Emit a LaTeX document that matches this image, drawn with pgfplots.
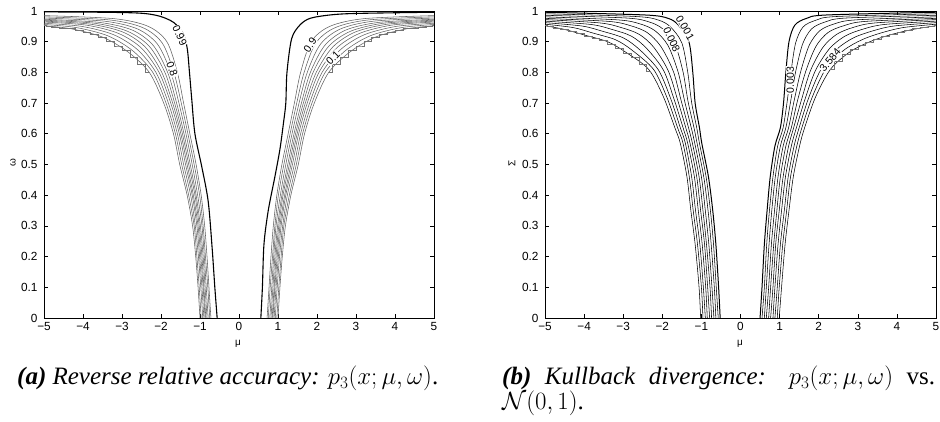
\documentclass[border=0pt]{standalone}
\usepackage{pgfplots}
\pgfplotsset{compat=1.18}
\usepackage{pgfplotstable}
\usepackage{fontspec}
\setmainfont{Liberation Serif}
\newfontfamily\hv{Liberation Sans}

% ---- plot (a): right side band contours (0.9 ... 0.1), columns xk yk
\pgfplotstableread{
x0 y0 x1 y1 x2 y2 x3 y3 x4 y4 x5 y5 x6 y6 x7 y7 x8 y8 x9 y9
0.72 0 0.75 0 0.79 0 0.82 0 0.85 0 0.87 0 0.90 0 0.93 0 0.97 0 1.00 0
0.77 0.1 0.80 0.1 0.84 0.1 0.87 0.1 0.90 0.1 0.92 0.1 0.95 0.1 0.98 0.1 1.02 0.1 1.05 0.1
0.82 0.2 0.86 0.2 0.89 0.2 0.92 0.2 0.95 0.2 0.98 0.2 1.01 0.2 1.04 0.2 1.08 0.2 1.11 0.2
0.88 0.3 0.92 0.3 0.95 0.3 0.99 0.3 1.02 0.3 1.05 0.3 1.08 0.3 1.12 0.3 1.15 0.3 1.19 0.3
0.97 0.4 1.01 0.4 1.06 0.4 1.10 0.4 1.13 0.4 1.17 0.4 1.20 0.4 1.24 0.4 1.29 0.4 1.33 0.4
1.10 0.5 1.15 0.5 1.20 0.5 1.25 0.5 1.29 0.5 1.33 0.5 1.37 0.5 1.42 0.5 1.47 0.5 1.52 0.5
1.26 0.6 1.31 0.6 1.36 0.6 1.41 0.6 1.45 0.6 1.49 0.6 1.53 0.6 1.58 0.6 1.63 0.6 1.68 0.6
1.42 0.7 1.48 0.7 1.54 0.7 1.60 0.7 1.65 0.7 1.70 0.7 1.75 0.7 1.81 0.7 1.87 0.7 1.93 0.7
1.58 0.8 1.67 0.8 1.75 0.8 1.83 0.8 1.90 0.8 1.98 0.8 2.05 0.8 2.13 0.8 2.21 0.8 2.30 0.8
1.85 0.900 1.97 0.896 2.09 0.892 2.20 0.888 2.30 0.885 2.40 0.882 2.50 0.879 2.61 0.875 2.73 0.871 2.85 0.867
2.33 0.950 2.47 0.946 2.61 0.942 2.74 0.938 2.86 0.934 2.97 0.931 3.09 0.927 3.22 0.923 3.36 0.919 3.50 0.915
3.20 0.975 3.33 0.971 3.46 0.967 3.59 0.963 3.70 0.960 3.81 0.957 3.92 0.954 4.04 0.950 4.17 0.946 4.30 0.942
5 0.985 5 0.981 5 0.977 5 0.973 5 0.970 5 0.967 5 0.964 5 0.960 5 0.956 5 0.952
}\aR
% ---- plot (a): left side band contours
\pgfplotstableread{
x0 y0 x1 y1 x2 y2 x3 y3 x4 y4 x5 y5 x6 y6 x7 y7 x8 y8 x9 y9
-0.72 0 -0.75 0 -0.79 0 -0.82 0 -0.85 0 -0.87 0 -0.90 0 -0.93 0 -0.97 0 -1.00 0
-0.77 0.1 -0.80 0.1 -0.84 0.1 -0.87 0.1 -0.90 0.1 -0.92 0.1 -0.95 0.1 -0.98 0.1 -1.02 0.1 -1.05 0.1
-0.82 0.2 -0.86 0.2 -0.89 0.2 -0.92 0.2 -0.95 0.2 -0.98 0.2 -1.01 0.2 -1.04 0.2 -1.08 0.2 -1.11 0.2
-0.88 0.3 -0.92 0.3 -0.95 0.3 -0.99 0.3 -1.02 0.3 -1.05 0.3 -1.08 0.3 -1.12 0.3 -1.15 0.3 -1.19 0.3
-0.97 0.4 -1.01 0.4 -1.06 0.4 -1.10 0.4 -1.13 0.4 -1.17 0.4 -1.20 0.4 -1.24 0.4 -1.29 0.4 -1.33 0.4
-1.10 0.5 -1.15 0.5 -1.20 0.5 -1.25 0.5 -1.29 0.5 -1.33 0.5 -1.37 0.5 -1.42 0.5 -1.47 0.5 -1.52 0.5
-1.26 0.6 -1.31 0.6 -1.36 0.6 -1.41 0.6 -1.45 0.6 -1.49 0.6 -1.53 0.6 -1.58 0.6 -1.63 0.6 -1.68 0.6
-1.42 0.7 -1.48 0.7 -1.54 0.7 -1.60 0.7 -1.65 0.7 -1.70 0.7 -1.75 0.7 -1.81 0.7 -1.87 0.7 -1.93 0.7
-1.58 0.8 -1.67 0.8 -1.75 0.8 -1.83 0.8 -1.90 0.8 -1.98 0.8 -2.05 0.8 -2.13 0.8 -2.21 0.8 -2.30 0.8
-1.85 0.900 -1.97 0.896 -2.09 0.892 -2.20 0.888 -2.30 0.885 -2.40 0.882 -2.50 0.879 -2.61 0.875 -2.73 0.871 -2.85 0.867
-2.33 0.950 -2.47 0.946 -2.61 0.942 -2.74 0.938 -2.86 0.934 -2.97 0.931 -3.09 0.927 -3.22 0.923 -3.36 0.919 -3.50 0.915
-3.20 0.975 -3.33 0.971 -3.46 0.967 -3.59 0.963 -3.70 0.960 -3.81 0.957 -3.92 0.954 -4.04 0.950 -4.17 0.946 -4.30 0.942
-5 0.985 -5 0.981 -5 0.977 -5 0.973 -5 0.970 -5 0.967 -5 0.964 -5 0.960 -5 0.956 -5 0.952
}\aL
% ---- plot (b): right side contours
\pgfplotstableread{
x0 y0 x1 y1 x2 y2 x3 y3 x4 y4 x5 y5 x6 y6 x7 y7 x8 y8 x9 y9
0.50 0 0.55 0 0.61 0 0.66 0 0.72 0 0.77 0 0.83 0 0.88 0 0.94 0 0.99 0
0.55 0.1 0.61 0.1 0.66 0.1 0.72 0.1 0.77 0.1 0.83 0.1 0.88 0.1 0.94 0.1 0.99 0.1 1.05 0.1
0.61 0.24 0.67 0.24 0.73 0.24 0.79 0.24 0.85 0.24 0.90 0.24 0.96 0.24 1.02 0.24 1.08 0.24 1.14 0.24
0.68 0.35 0.74 0.35 0.80 0.35 0.87 0.35 0.93 0.35 0.99 0.35 1.05 0.35 1.12 0.35 1.18 0.35 1.24 0.35
0.76 0.46 0.83 0.46 0.89 0.46 0.96 0.46 1.02 0.46 1.09 0.46 1.15 0.46 1.22 0.46 1.28 0.46 1.35 0.46
0.88 0.56 0.95 0.56 1.02 0.56 1.09 0.56 1.16 0.56 1.23 0.56 1.30 0.56 1.37 0.56 1.44 0.56 1.51 0.56
1.02 0.62 1.09 0.62 1.16 0.62 1.23 0.62 1.30 0.62 1.36 0.62 1.43 0.62 1.50 0.62 1.57 0.62 1.64 0.62
1.10 0.700 1.19 0.702 1.28 0.704 1.37 0.707 1.46 0.709 1.56 0.711 1.65 0.713 1.74 0.716 1.83 0.718 1.92 0.720
1.16 0.800 1.29 0.801 1.41 0.802 1.54 0.803 1.67 0.804 1.79 0.806 1.92 0.807 2.05 0.808 2.17 0.809 2.30 0.810
1.24 0.900 1.41 0.896 1.59 0.893 1.76 0.889 1.93 0.885 2.11 0.882 2.28 0.878 2.45 0.874 2.63 0.871 2.80 0.867
1.39 0.954 1.60 0.948 1.82 0.942 2.03 0.936 2.24 0.930 2.46 0.924 2.67 0.918 2.88 0.912 3.10 0.906 3.31 0.900
1.69 0.976 1.93 0.970 2.16 0.964 2.40 0.958 2.64 0.952 2.87 0.946 3.11 0.940 3.35 0.934 3.58 0.928 3.82 0.922
2.20 0.987 2.45 0.982 2.69 0.977 2.94 0.971 3.18 0.966 3.43 0.961 3.67 0.956 3.92 0.951 4.16 0.946 4.41 0.940
5 0.996 5 0.991 5 0.986 5 0.981 5 0.976 5 0.972 5 0.967 5 0.962 5 0.957 5 0.952
}\bR
% ---- plot (b): left side contours
\pgfplotstableread{
x0 y0 x1 y1 x2 y2 x3 y3 x4 y4 x5 y5 x6 y6 x7 y7 x8 y8 x9 y9
-0.52 0 -0.57 0 -0.63 0 -0.68 0 -0.74 0 -0.79 0 -0.85 0 -0.90 0 -0.96 0 -1.02 0
-0.56 0.1 -0.62 0.1 -0.67 0.1 -0.73 0.1 -0.78 0.1 -0.84 0.1 -0.89 0.1 -0.95 0.1 -1.00 0.1 -1.06 0.1
-0.63 0.24 -0.69 0.24 -0.75 0.24 -0.81 0.24 -0.87 0.24 -0.92 0.24 -0.98 0.24 -1.04 0.24 -1.10 0.24 -1.16 0.24
-0.71 0.35 -0.77 0.35 -0.83 0.35 -0.90 0.35 -0.96 0.35 -1.02 0.35 -1.08 0.35 -1.15 0.35 -1.21 0.35 -1.27 0.35
-0.82 0.46 -0.88 0.46 -0.94 0.46 -1.00 0.46 -1.06 0.46 -1.12 0.46 -1.18 0.46 -1.25 0.46 -1.31 0.46 -1.37 0.46
-0.99 0.569 -1.05 0.569 -1.11 0.569 -1.17 0.569 -1.23 0.569 -1.29 0.569 -1.35 0.569 -1.41 0.569 -1.47 0.569 -1.54 0.569
-1.05 0.62 -1.12 0.62 -1.19 0.62 -1.26 0.62 -1.33 0.62 -1.40 0.62 -1.47 0.62 -1.54 0.62 -1.61 0.62 -1.68 0.62
-1.16 0.700 -1.25 0.702 -1.34 0.704 -1.43 0.707 -1.52 0.709 -1.61 0.711 -1.70 0.713 -1.79 0.716 -1.88 0.718 -1.97 0.720
-1.22 0.800 -1.35 0.801 -1.47 0.802 -1.60 0.803 -1.72 0.804 -1.85 0.806 -1.97 0.807 -2.10 0.808 -2.22 0.809 -2.35 0.810
-1.32 0.900 -1.50 0.896 -1.68 0.893 -1.86 0.889 -2.04 0.885 -2.22 0.882 -2.40 0.878 -2.58 0.874 -2.76 0.871 -2.95 0.867
-1.59 0.954 -1.79 0.948 -1.99 0.942 -2.19 0.936 -2.39 0.930 -2.59 0.924 -2.79 0.918 -2.99 0.912 -3.19 0.906 -3.40 0.900
-1.85 0.976 -2.09 0.970 -2.33 0.964 -2.57 0.958 -2.81 0.952 -3.05 0.946 -3.29 0.940 -3.53 0.934 -3.77 0.928 -4.00 0.922
-2.44 0.987 -2.67 0.982 -2.90 0.977 -3.13 0.971 -3.36 0.966 -3.59 0.961 -3.82 0.956 -4.05 0.951 -4.28 0.946 -4.50 0.940
-5 0.996 -5 0.991 -5 0.986 -5 0.981 -5 0.976 -5 0.972 -5 0.967 -5 0.962 -5 0.957 -5 0.952
}\bL

\pgfplotsset{
  panel/.style={
    scale only axis, height=307pt,
    xmin=-5, xmax=5, ymin=0, ymax=1,
    axis line style={line width=0.8pt},
    tick align=inside, major tick length=4pt,
    every tick/.style={black, line width=0.6pt},
    xtick={-5,-4,-3,-2,-1,0,1,2,3,4,5},
    xticklabels={−5,−4,−3,−2,−1,0,1,2,3,4,5},
    ytick={0,0.1,0.2,0.3,0.4,0.5,0.6,0.7,0.8,0.9,1},
    yticklabels={0,0.1,0.2,0.3,0.4,0.5,0.6,0.7,0.8,0.9,1},
    ticklabel style={font=\hv\fontsize{11.8}{12}\selectfont},
    yticklabel style={xshift=-3pt},
    xticklabel style={yshift=-0.5pt},
  },
}
\tikzset{lab/.style={fill=white, inner sep=0.6pt, font=\hv\fontsize{10.5}{11}\selectfont}}

\begin{document}
\begin{tikzpicture}[x=1pt,y=1pt]
\useasboundingbox (0,0) rectangle (940,422);

% ================= (a) =================
\begin{axis}[panel, width=390pt, at={(44pt,104pt)}, anchor=south west]
\pgfplotsinvokeforeach{0,...,9}{
  \addplot[black!62, line width=0.55pt, smooth, tension=0.5] table[x=x#1, y=y#1] {\aR};
  \addplot[black!62, line width=0.55pt, smooth, tension=0.5] table[x=x#1, y=y#1] {\aL};
}
% staircase edges of the outermost contour
\addplot[black!55, line width=0.6pt, const plot mark mid] coordinates {
  (2.3,0.800) (2.5,0.826) (2.7,0.850) (2.9,0.871) (3.1,0.886) (3.3,0.900) (3.5,0.915) (3.7,0.925)
  (3.9,0.932) (4.1,0.938) (4.3,0.942) (4.5,0.945) (4.7,0.948) (4.9,0.951) (5.0,0.952)};
\addplot[black!55, line width=0.6pt, const plot mark mid] coordinates {
  (-2.3,0.800) (-2.5,0.826) (-2.7,0.850) (-2.9,0.871) (-3.1,0.886) (-3.3,0.900) (-3.5,0.915) (-3.7,0.925)
  (-3.9,0.932) (-4.1,0.938) (-4.3,0.942) (-4.5,0.945) (-4.7,0.948) (-4.9,0.951) (-5.0,0.952)};
\addplot[black, line width=1.1pt, smooth, tension=0.5] coordinates {
  (0.56,0) (0.60,0.1) (0.64,0.24) (0.75,0.35) (0.92,0.46) (1.05,0.55) (1.14,0.635)
  (1.20,0.70) (1.23,0.80) (1.35,0.91) (1.56,0.954) (1.82,0.976) (2.33,0.987) (3.0,0.992) (5,0.996)};
\addplot[black, line width=1.1pt, smooth, tension=0.5] coordinates {
  (-0.56,0) (-0.62,0.1) (-0.69,0.23) (-0.79,0.38) (-0.95,0.49) (-1.13,0.60) (-1.21,0.71)
  (-1.27,0.80) (-1.33,0.88) (-1.45,0.93) (-1.77,0.97) (-2.54,0.993) (-5,0.997)};
\node[lab, rotate=-65] at (axis cs:-1.52,0.92) {0.99};
\node[lab, rotate=-70] at (axis cs:-1.72,0.81) {0.8};
\node[lab, rotate=55] at (axis cs:1.82,0.889) {0.9};
\node[lab, rotate=45] at (axis cs:2.41,0.847) {0.1};
\end{axis}

% ================= (b) =================
\begin{axis}[panel, width=391pt, at={(545pt,104pt)}, anchor=south west]
\pgfplotsinvokeforeach{1,...,9}{
  \addplot[black, line width=0.55pt, smooth, tension=0.5] table[x=x#1, y=y#1] {\bR};
  \addplot[black, line width=0.55pt, smooth, tension=0.5] table[x=x#1, y=y#1] {\bL};
}
\addplot[black!55, line width=0.6pt, const plot mark mid] coordinates {
  (2.3,0.810) (2.5,0.835) (2.7,0.858) (2.9,0.875) (3.1,0.887) (3.3,0.899) (3.5,0.908) (3.7,0.917)
  (3.9,0.925) (4.1,0.931) (4.3,0.937) (4.5,0.942) (4.7,0.946) (4.9,0.950) (5.0,0.952)};
\addplot[black!55, line width=0.6pt, const plot mark mid] coordinates {
  (-2.3,0.803) (-2.5,0.827) (-2.7,0.848) (-2.9,0.863) (-3.1,0.878) (-3.3,0.893) (-3.5,0.904) (-3.7,0.911)
  (-3.9,0.918) (-4.1,0.926) (-4.3,0.933) (-4.5,0.940) (-4.7,0.945) (-4.9,0.950) (-5.0,0.952)};
\addplot[black, line width=1.0pt, smooth, tension=0.5] table[x=x0, y=y0] {\bR};
\addplot[black, line width=1.0pt, smooth, tension=0.5] table[x=x0, y=y0] {\bL};
\node[lab, rotate=-60] at (axis cs:-1.42,0.945) {0.001};
\node[lab, rotate=-65] at (axis cs:-1.76,0.906) {0.008};
\node[lab, rotate=90] at (axis cs:1.27,0.775) {0.003};
\node[lab, rotate=50] at (axis cs:2.29,0.84) {3.584};
\end{axis}

% axis labels
\node[font=\hv\fontsize{10}{10}\selectfont] at (238,78) {μ};
\node[font=\hv\fontsize{10}{10}\selectfont] at (740,78) {μ};
\node[font=\hv\fontsize{10}{10}\selectfont, rotate=90] at (13,259) {ω};
\node[font=\hv\fontsize{10}{10}\selectfont, rotate=90] at (512,259) {Σ};

% captions
\node[anchor=base west, inner sep=0pt, font=\fontsize{25}{25}\selectfont] at (17,37)
  {\textbf{\textit{(a)}} \textit{Reverse relative accuracy:} $p_3(x;\mu,\omega)$.};
\node[anchor=base west, inner sep=0pt, font=\fontsize{25}{25}\selectfont] at (502,37)
  {\parbox[t]{433pt}{\textbf{\textit{(b)}} \textit{Kullback divergence:} $p_3(x;\mu,\omega)$ vs.\linebreak $\mathcal{N}(0,1)$.}};
\end{tikzpicture}
\end{document}
